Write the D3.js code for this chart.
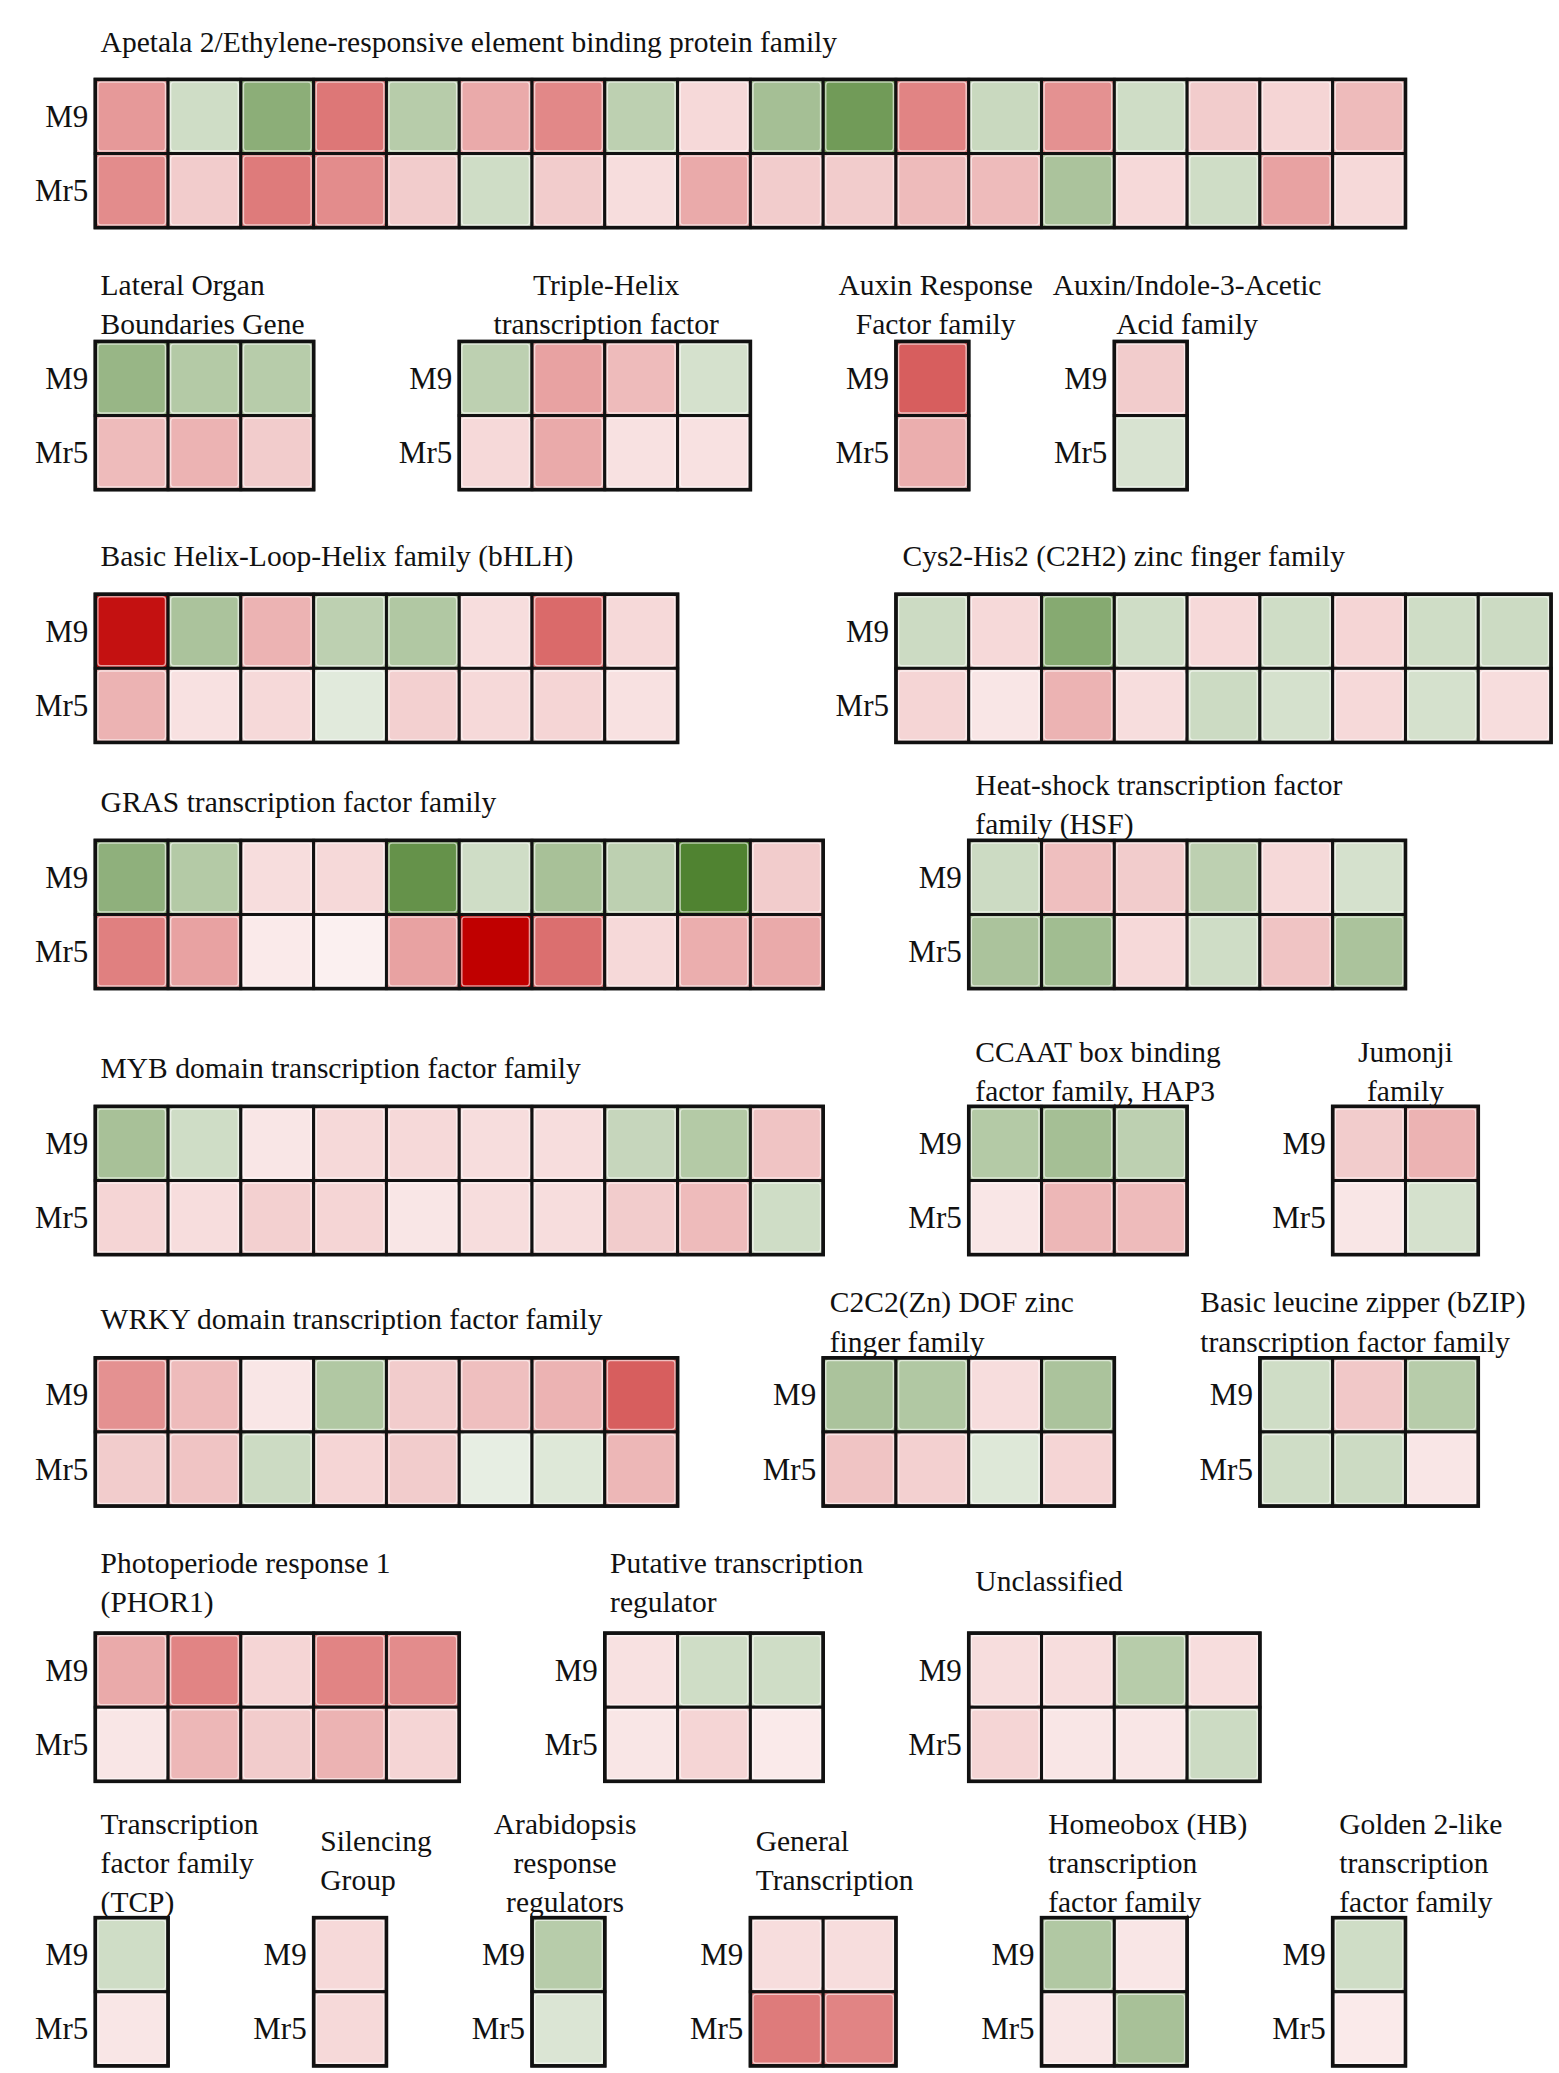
<!DOCTYPE html>
<html>
<head>
<meta charset="utf-8">
<script src="https://cdn.jsdelivr.net/npm/d3@7"></script>
<style>
  body { margin: 0; background: #fff; }
  text { font-family: "Liberation Serif", "Times New Roman", serif; fill: #111; }
</style>
</head>
<body>
<div id="chart"></div>
<script>

// row labels (rootstocks)
const rowLabels = ["M9", "Mr5"];

// family titles, one entry per panel, split in lines as printed
const familyTitles = [
    ["Apetala 2/Ethylene-responsive element binding protein family"],
    ["Lateral Organ", "Boundaries Gene"],
    ["Triple-Helix", "transcription factor"],
    ["Auxin Response", "Factor family"],
    ["Auxin/Indole-3-Acetic", "Acid family"],
    ["Basic Helix-Loop-Helix family (bHLH)"],
    ["Cys2-His2 (C2H2) zinc finger family"],
    ["GRAS transcription factor family"],
    ["Heat-shock transcription factor", "family (HSF)"],
    ["MYB domain transcription factor family"],
    ["CCAAT box binding", "factor family, HAP3"],
    ["Jumonji", "family"],
    ["WRKY domain transcription factor family"],
    ["C2C2(Zn) DOF zinc", "finger family"],
    ["Basic leucine zipper (bZIP)", "transcription factor family"],
    ["Photoperiode response 1", "(PHOR1)"],
    ["Putative transcription", "regulator"],
    ["Unclassified"],
    ["Transcription", "factor family", "(TCP)"],
    ["Silencing", "Group"],
    ["Arabidopsis", "response", "regulators"],
    ["General", "Transcription"],
    ["Homeobox (HB)", "transcription", "factor family"],
    ["Golden 2-like", "transcription", "factor family"]
];

// expression values (log2 fold change), M9 row
const m9Values = [
    [1.2, -0.8, -1.9, 1.6, -1.2, 1.0, 1.4, -1.1, 0.45, -1.5, -2.35, 1.45, -0.9, 1.3, -0.8, 0.6, 0.5, 0.8],
    [-1.7, -1.25, -1.2],
    [-1.1, 1.1, 0.8, -0.7],
    [1.9],
    [0.6],
    [2.8, -1.4, 0.9, -1.1, -1.3, 0.4, 1.75, 0.45],
    [-0.85, 0.45, -2.0, -0.8, 0.45, -0.8, 0.5, -0.8, -0.85],
    [-1.85, -1.25, 0.4, 0.45, -2.55, -0.8, -1.45, -1.1, -2.9, 0.6],
    [-0.85, 0.75, 0.6, -1.1, 0.45, -0.7],
    [-1.45, -0.8, 0.3, 0.45, 0.45, 0.4, 0.4, -0.95, -1.25, 0.7],
    [-1.25, -1.5, -1.1],
    [0.6, 0.9],
    [1.3, 0.8, 0.3, -1.3, 0.6, 0.75, 0.9, 1.9],
    [-1.4, -1.3, 0.4, -1.4],
    [-0.8, 0.65, -1.2],
    [1.0, 1.45, 0.5, 1.45, 1.35],
    [0.35, -0.8, -0.8],
    [0.4, 0.4, -1.2, 0.4],
    [-0.8],
    [0.45],
    [-1.2],
    [0.4, 0.4],
    [-1.3, 0.3],
    [-0.8]
];

// expression values, Mr5 row
const mr5Values = [
    [1.35, 0.6, 1.55, 1.35, 0.6, -0.8, 0.6, 0.4, 1.0, 0.6, 0.6, 0.8, 0.8, -1.4, 0.45, -0.8, 1.1, 0.45],
    [0.8, 0.9, 0.6],
    [0.45, 1.0, 0.35, 0.35],
    [0.95],
    [-0.65],
    [0.9, 0.35, 0.45, -0.5, 0.55, 0.45, 0.5, 0.35],
    [0.5, 0.3, 0.9, 0.4, -0.85, -0.7, 0.45, -0.7, 0.4],
    [1.5, 1.1, 0.25, 0.18, 1.1, 3.0, 1.7, 0.45, 0.95, 1.0],
    [-1.4, -1.55, 0.45, -0.8, 0.7, -1.4],
    [0.5, 0.4, 0.55, 0.5, 0.3, 0.4, 0.4, 0.6, 0.8, -0.8],
    [0.3, 0.85, 0.8],
    [0.3, -0.7],
    [0.6, 0.7, -0.85, 0.5, 0.6, -0.4, -0.55, 0.85],
    [0.7, 0.55, -0.55, 0.5],
    [-0.8, -0.85, 0.3],
    [0.3, 0.85, 0.6, 0.9, 0.5],
    [0.3, 0.5, 0.25],
    [0.5, 0.3, 0.3, -0.85],
    [0.3],
    [0.45],
    [-0.6],
    [1.55, 1.45],
    [0.3, -1.45],
    [0.25]
];

// panel placement: grid column, top of heatmap, title anchor and title x/y (reference units)
const panelLayout = [
    { col: 0,  top: 60,   anchor: "start",  tx: 76,   ty: 32 },
    { col: 0,  top: 258,  anchor: "start",  tx: 76,   ty: 215 },
    { col: 5,  top: 258,  anchor: "middle", tx: 458,  ty: 215 },
    { col: 11, top: 258,  anchor: "middle", tx: 707,  ty: 215 },
    { col: 14, top: 258,  anchor: "middle", tx: 897,  ty: 215 },
    { col: 0,  top: 449,  anchor: "start",  tx: 76,   ty: 420 },
    { col: 11, top: 449,  anchor: "start",  tx: 682,  ty: 420 },
    { col: 0,  top: 635,  anchor: "start",  tx: 76,   ty: 606 },
    { col: 12, top: 635,  anchor: "start",  tx: 737,  ty: 593 },
    { col: 0,  top: 836,  anchor: "start",  tx: 76,   ty: 807 },
    { col: 12, top: 836,  anchor: "start",  tx: 737,  ty: 795 },
    { col: 17, top: 836,  anchor: "middle", tx: 1062, ty: 795 },
    { col: 0,  top: 1026, anchor: "start",  tx: 76,   ty: 997 },
    { col: 10, top: 1026, anchor: "start",  tx: 627,  ty: 984 },
    { col: 16, top: 1026, anchor: "start",  tx: 907,  ty: 984 },
    { col: 0,  top: 1234, anchor: "start",  tx: 76,   ty: 1181 },
    { col: 7,  top: 1234, anchor: "start",  tx: 461,  ty: 1181 },
    { col: 12, top: 1234, anchor: "start",  tx: 737,  ty: 1195 },
    { col: 0,  top: 1449, anchor: "start",  tx: 76,   ty: 1378 },
    { col: 3,  top: 1449, anchor: "start",  tx: 242,  ty: 1391 },
    { col: 6,  top: 1449, anchor: "middle", tx: 427,  ty: 1378 },
    { col: 9,  top: 1449, anchor: "start",  tx: 571,  ty: 1391 },
    { col: 13, top: 1449, anchor: "start",  tx: 792,  ty: 1378 },
    { col: 17, top: 1449, anchor: "start",  tx: 1012, ty: 1378 }
];

const width = 1559;
const height = 2073;
const S = width / 1178;          // reference units -> pixels
const lineGap = 29.7 * S;
const rowHeight = 56 * S;

const svg = d3.select("#chart")
    .append("svg")
    .attr("width", width)
    .attr("height", height);

svg.append("rect")
    .attr("width", width)
    .attr("height", height)
    .attr("fill", "#fff");

// one grid column = one heatmap cell
const gridX = d3.scaleLinear()
    .domain([0, 1])
    .range([72 * S, 127 * S]);

const colorScale = d3.scaleLinear()
    .domain([-3, 0, 3])
    .range(["#4a7f2a", "#ffffff", "#c00000"])
    .interpolate(d3.interpolateRgb)
    .clamp(true);

familyTitles.forEach(function(title, i) {

    const lay = panelLayout[i];
    const n = m9Values[i].length;

    const g = svg.append("g").attr("class", "panel");

    const xScale = d3.scaleBand()
        .domain(d3.range(n))
        .range([gridX(lay.col), gridX(lay.col + n)]);

    const yScale = d3.scaleBand()
        .domain(rowLabels)
        .range([lay.top * S, lay.top * S + 2 * rowHeight]);

    const cells = [];
    rowLabels.forEach(function(r) {
        const vals = r === "M9" ? m9Values[i] : mr5Values[i];
        vals.forEach(function(v, j) {
            cells.push({ row: r, col: j, value: v });
        });
    });

    g.selectAll("rect.cell")
        .data(cells)
        .enter()
        .append("rect")
            .attr("class", "cell")
            .attr("x", function(d) { return xScale(d.col); })
            .attr("y", function(d) { return yScale(d.row); })
            .attr("width", xScale.bandwidth())
            .attr("height", yScale.bandwidth())
            .attr("fill", function(d) { return colorScale(d.value); })
            .attr("stroke", "#111")
            .attr("stroke-width", 3);

    // soft light rim inside every cell
    g.selectAll("rect.rim")
        .data(cells)
        .enter()
        .append("rect")
            .attr("class", "rim")
            .attr("x", function(d) { return xScale(d.col) + 2.6; })
            .attr("y", function(d) { return yScale(d.row) + 2.6; })
            .attr("width", xScale.bandwidth() - 5.2)
            .attr("height", yScale.bandwidth() - 5.2)
            .attr("rx", 3)
            .attr("fill", "none")
            .attr("stroke", "#fff")
            .attr("stroke-opacity", 0.6)
            .attr("stroke-width", 1.4);

    g.append("rect")
        .attr("x", xScale.range()[0])
        .attr("y", yScale.range()[0])
        .attr("width", xScale.range()[1] - xScale.range()[0])
        .attr("height", yScale.range()[1] - yScale.range()[0])
        .attr("fill", "none")
        .attr("stroke", "#111")
        .attr("stroke-width", 3.6);

    g.selectAll("text.rowLabel")
        .data(rowLabels)
        .enter()
        .append("text")
            .attr("class", "rowLabel")
            .attr("x", xScale.range()[0] - 7)
            .attr("y", function(d) { return yScale(d) + yScale.bandwidth() / 2; })
            .attr("text-anchor", "end")
            .attr("dominant-baseline", "central")
            .attr("font-size", 31)
            .text(function(d) { return d; });

    g.selectAll("text.title")
        .data(title)
        .enter()
        .append("text")
            .attr("class", "title")
            .attr("x", lay.tx * S)
            .attr("y", function(d, k) { return lay.ty * S + k * lineGap; })
            .attr("text-anchor", lay.anchor)
            .attr("dominant-baseline", "central")
            .attr("font-size", 29.5)
            .text(function(d) { return d; });

});

</script>
</body>
</html>
